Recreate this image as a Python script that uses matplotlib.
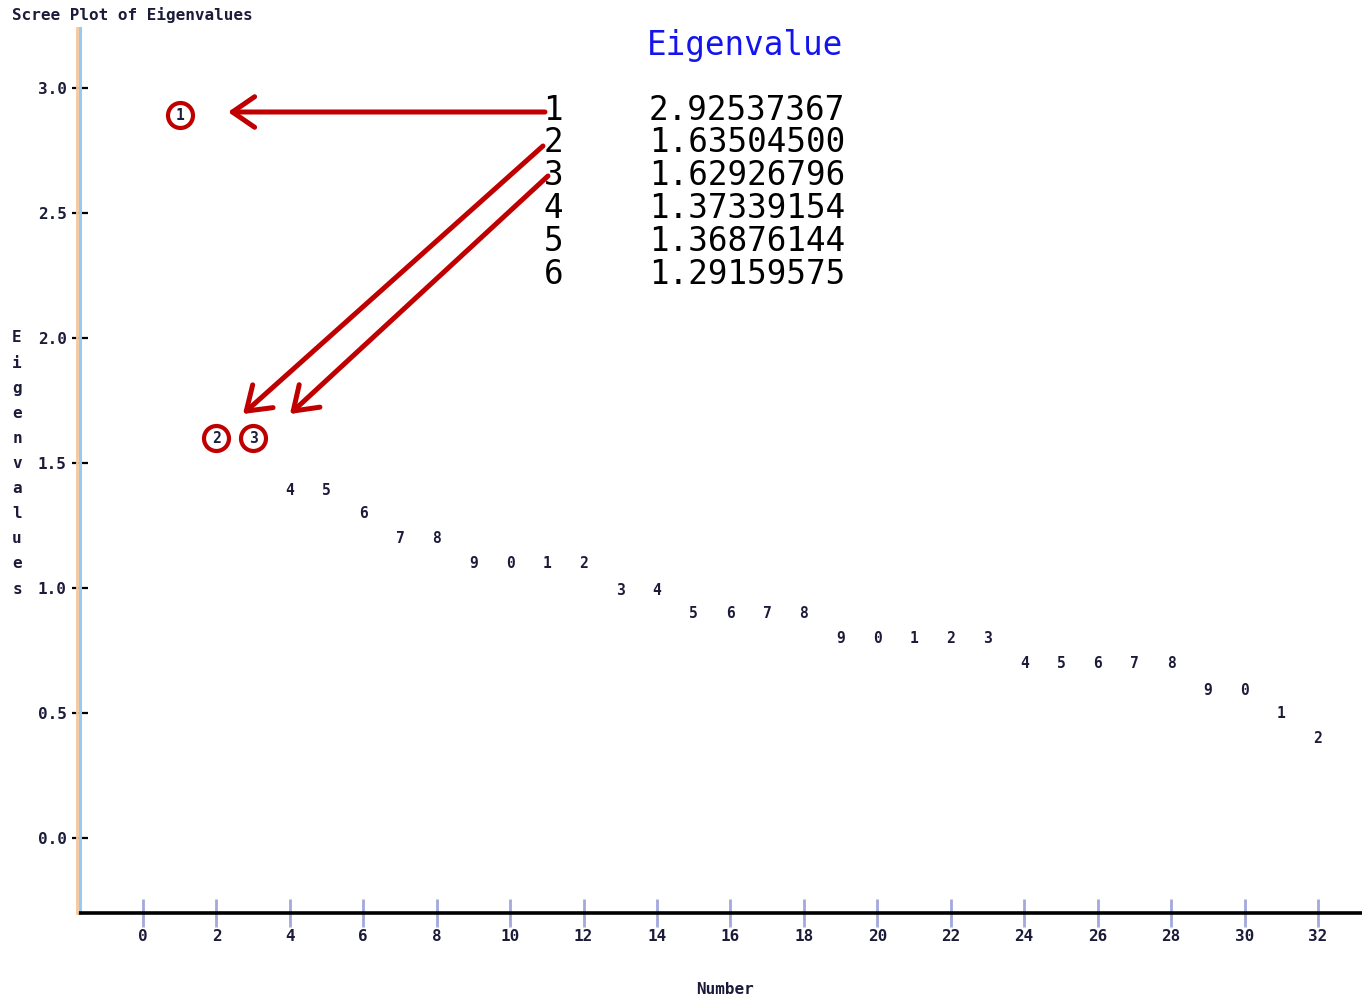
import matplotlib
matplotlib.use("Agg")
import matplotlib.pyplot as plt

# component numbers and eigenvalues as they sit on the printer-style plot
numbers = list(range(1, 33))
eigen_plot = [2.89, 1.60, 1.60, 1.39, 1.39, 1.30, 1.20, 1.20,
              1.10, 1.10, 1.10, 1.10, 0.99, 0.99, 0.90, 0.90,
              0.90, 0.90, 0.80, 0.80, 0.80, 0.80, 0.80, 0.70,
              0.70, 0.70, 0.70, 0.70, 0.59, 0.59, 0.50, 0.40]

# eigenvalue listing shown in the callout
table_rank = [1, 2, 3, 4, 5, 6]
table_eigen = ["2.92537367", "1.63504500", "1.62926796",
               "1.37339154", "1.36876144", "1.29159575"]

circled = [1, 2, 3]

xticks = list(range(0, 33, 2))
yticks = [0.0, 0.5, 1.0, 1.5, 2.0, 2.5, 3.0]

MONO = "DejaVu Sans Mono"
INK = "#1c1c3a"
RED = "#c00000"
SMALL = 11.5

W, H = 1362, 997
YMIN, YMAX = -0.30, 3.24


def fx(px):
    return px / W


def fy(py):
    return 1 - py / H


def data_xy(px, py):
    # picture pixel -> data coordinates (x: 0 at 143, 32 at 1318; y: 0 at 838, 3 at 88)
    return (px - 143) / 36.72, (838 - py) / 250.0


fig = plt.figure(figsize=(W / 100, H / 100), dpi=100)
ax = fig.add_axes([fx(80), fy(913), fx(1362) - fx(80), fy(28) - fy(913)])
ax.set_xlim(-1.716, 33.2)
ax.set_ylim(YMIN, YMAX)

for s in ["top", "right"]:
    ax.spines[s].set_visible(False)
ax.spines["bottom"].set_color("black")
ax.spines["bottom"].set_linewidth(2.6)
ax.spines["left"].set_color("#96caf0")
ax.spines["left"].set_linewidth(2.2)
ax.plot([-0.0024, -0.0024], [0, 1], transform=ax.transAxes, color="#f6c89c",
        lw=2.0, clip_on=False, zorder=3)

ax.set_xticks(xticks)
ax.set_xticklabels([str(t) for t in xticks], family=MONO, fontsize=SMALL,
                   fontweight="bold", color=INK)
ax.set_yticks(yticks)
ax.set_yticklabels([f"{t:.1f}" for t in yticks], family=MONO, fontsize=SMALL,
                   fontweight="bold", color=INK)
ax.tick_params(axis="x", direction="inout", length=19.5, width=2.0,
               color="#a4a8dc", pad=2)
ax.tick_params(axis="y", direction="inout", length=11, width=1.6, color="black", pad=4)

# points drawn as the last digit of the component number
for n, v in zip(numbers, eigen_plot):
    ax.text(n, v, str(n % 10), family=MONO, fontsize=10.5, fontweight="bold",
            color=INK, ha="center", va="center")

# red circles around the first three components
ax.plot([numbers[i - 1] for i in circled], [eigen_plot[i - 1] for i in circled],
        "o", ms=18, mfc="none", mec=RED, mew=3, zorder=4)

arrow = dict(arrowstyle="->,head_length=0.8,head_width=0.55", color=RED, lw=3.6,
             mutation_scale=20, capstyle="round", joinstyle="round",
             shrinkA=0, shrinkB=0)
for start, end in [((545, 112), (228, 112)),
                   ((543, 146), (243, 414)),
                   ((548, 176), (290, 414))]:
    ax.annotate("", xy=data_xy(*end), xytext=data_xy(*start), arrowprops=arrow,
                annotation_clip=False)

# callout table
fig.text(fx(843), fy(45), "Eigenvalue", family=MONO, fontsize=23.5, color="#1414ee",
         ha="right", va="center")
for k, (r, e) in enumerate(zip(table_rank, table_eigen)):
    yy = 110 + k * 32.8
    fig.text(fx(563), fy(yy), str(r), family=MONO, fontsize=23.5, color="black",
             ha="right", va="center")
    fig.text(fx(845), fy(yy), e, family=MONO, fontsize=23.5, color="black",
             ha="right", va="center")

fig.text(fx(12), fy(15), "Scree Plot of Eigenvalues", family=MONO, fontsize=SMALL,
         fontweight="bold", color=INK, ha="left", va="center")
fig.text(fx(725), fy(989), "Number", family=MONO, fontsize=SMALL, fontweight="bold",
         color=INK, ha="center", va="center")
for k, ch in enumerate("Eigenvalues"):
    fig.text(fx(17), fy(338 + k * 25.1), ch, family=MONO, fontsize=SMALL,
             fontweight="bold", color=INK, ha="center", va="center")

fig.savefig("out.png", dpi=100)
